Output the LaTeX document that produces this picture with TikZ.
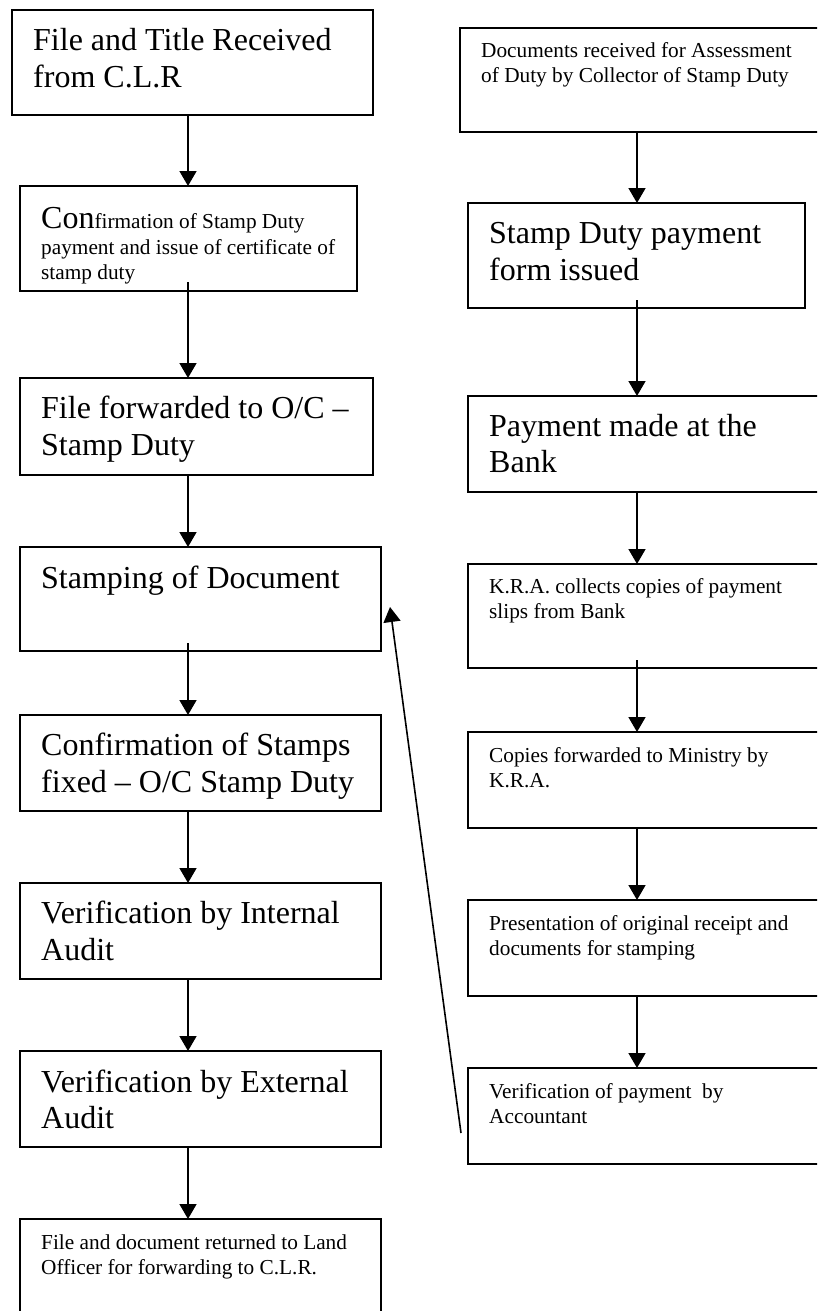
\documentclass[tikz,border=0pt]{standalone}
\usepackage{fontspec}
\setmainfont{Liberation Serif}
\usetikzlibrary{arrows.meta,calc}
\begin{document}
\begin{tikzpicture}[x=1pt,y=-1pt,
  box/.style={draw, line width=1.7pt, rectangle, inner sep=0pt, outer sep=0pt, anchor=north west},
  big/.style={anchor=base west, inner sep=0pt, font=\fontsize{32}{36.8}\selectfont},
  small/.style={anchor=base west, inner sep=0pt, font=\fontsize{21.3}{24.5}\selectfont},
  flow/.style={line width=1.6pt, -{Triangle[length=15pt,width=17pt]}}]
\useasboundingbox (0,0) rectangle (817,1311);
\clip (0,0) rectangle (817,1311);

% left column: land office steps
\node[box, minimum width=361pt, minimum height=105pt] (b1) at (12,10) {};
\node[box, minimum width=337pt, minimum height=105pt] (b2) at (20,186) {};
\node[box, minimum width=353pt, minimum height=97pt]  (b3) at (20,378) {};
\node[box, minimum width=361pt, minimum height=104pt] (b4) at (20,547) {};
\node[box, minimum width=361pt, minimum height=96pt]  (b5) at (20,715) {};
\node[box, minimum width=361pt, minimum height=96pt]  (b6) at (20,883) {};
\node[box, minimum width=361pt, minimum height=96pt]  (b7) at (20,1051) {};
\node[box, minimum width=361pt, minimum height=111pt] (b8) at (20,1219) {};

% right column: stamp duty payment steps
\node[box, minimum width=370pt, minimum height=104pt] (r1) at (460,28) {};
\node[box, minimum width=337pt, minimum height=105pt] (r2) at (468,203) {};
\node[box, minimum width=362pt, minimum height=96pt]  (r3) at (468,396) {};
\node[box, minimum width=362pt, minimum height=104pt] (r4) at (468,564) {};
\node[box, minimum width=362pt, minimum height=96pt]  (r5) at (468,732) {};
\node[box, minimum width=362pt, minimum height=96pt]  (r6) at (468,900) {};
\node[box, minimum width=362pt, minimum height=96pt]  (r7) at (468,1068) {};

% texts of the left column
\node[big] (t1a) at (33,51) {File and Title Received};
\node[big] (t1b) at (33,88) {from C.L.R};
\node[small] (t2a) at (41,228) {{\fontsize{32}{36.8}\selectfont Con}firmation of Stamp Duty};
\node[small] (t2b) at (41,254) {payment and issue of certificate of};
\node[small] (t2c) at (41,279) {stamp duty};
\node[big] (t3a) at (41,418) {File forwarded to O/C –};
\node[big] (t3b) at (41,455) {Stamp Duty};
\node[big] (t4a) at (41,588) {Stamping of Document};
\node[big] (t5a) at (41,755) {Confirmation of Stamps};
\node[big] (t5b) at (41,792) {fixed – O/C Stamp Duty};
\node[big] (t6a) at (41,923) {Verification by Internal};
\node[big] (t6b) at (41,960) {Audit};
\node[big] (t7a) at (41,1092) {Verification by External};
\node[big] (t7b) at (41,1128) {Audit};
\node[small] (t8a) at (41,1249) {File and document returned to Land};
\node[small] (t8b) at (41,1274) {Officer for forwarding to C.L.R.};

% texts of the right column
\node[small] (s1a) at (481,58) {Documents received for Assessment};
\node[small] (s1b) at (481,83) {of Duty by Collector of Stamp Duty};
\node[big] (s2a) at (489,243) {Stamp Duty payment};
\node[big] (s2b) at (489,280) {form issued};
\node[big] (s3a) at (489,436) {Payment made at the};
\node[big] (s3b) at (489,472) {Bank};
\node[small] (s4a) at (489,593) {K.R.A. collects copies of payment};
\node[small] (s4b) at (489,618) {slips from Bank};
\node[small] (s5a) at (489,762) {Copies forwarded to Ministry by};
\node[small] (s5b) at (489,787) {K.R.A.};
\node[small] (s6a) at (489,930) {Presentation of original receipt and};
\node[small] (s6b) at (489,955) {documents for stamping};
\node[small] (s7a) at (489,1098) {Verification of payment\ \ by};
\node[small] (s7b) at (489,1123) {Accountant};

% connector columns
\coordinate (lx) at (188,0);
\coordinate (rx) at (637,0);

\draw[flow] (b1.south -| lx) -- (b2.north -| lx);
\draw[flow] ($(b2.south -| lx)+(0,-9)$) -- (b3.north -| lx);
\draw[flow] (b3.south -| lx) -- (b4.north -| lx);
\draw[flow] ($(b4.south -| lx)+(0,-8)$) -- (b5.north -| lx);
\draw[flow] (b5.south -| lx) -- (b6.north -| lx);
\draw[flow] (b6.south -| lx) -- (b7.north -| lx);
\draw[flow] (b7.south -| lx) -- (b8.north -| lx);

\draw[flow] (r1.south -| rx) -- (r2.north -| rx);
\draw[flow] ($(r2.south -| rx)+(0,-8)$) -- (r3.north -| rx);
\draw[flow] (r3.south -| rx) -- (r4.north -| rx);
\draw[flow] ($(r4.south -| rx)+(0,-8)$) -- (r5.north -| rx);
\draw[flow] (r5.south -| rx) -- (r6.north -| rx);
\draw[flow] (r6.south -| rx) -- (r7.north -| rx);

% return link from the accountant's check to the stamping step
\coordinate (fb) at (461,1133);
\draw[flow] (fb) -- ($(b4.east)+(9,8)$);
\end{tikzpicture}
\end{document}
